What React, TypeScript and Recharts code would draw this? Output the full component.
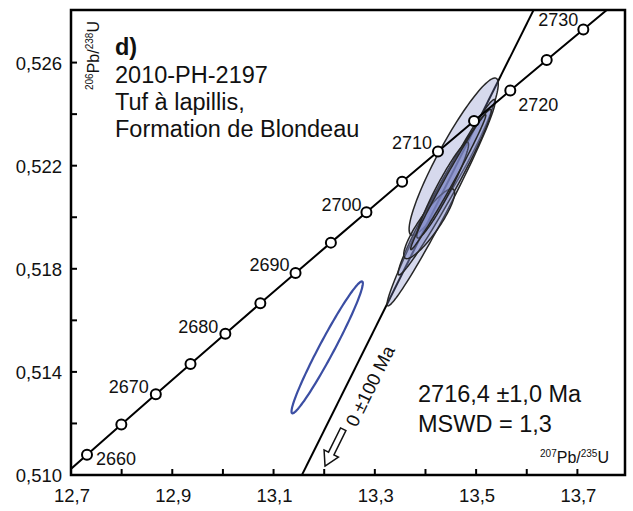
import React from 'react';
import { ScatterChart, Scatter, XAxis, YAxis, ReferenceArea, ReferenceDot } from 'recharts';

// ---------- data ----------
// Concordia reference curve (ages in Ma, with 207Pb/235U and 206Pb/238U ratios)
const concordiaAges = [2655, 2660, 2665, 2670, 2675, 2680, 2685, 2690, 2695, 2700, 2705, 2710, 2715, 2720, 2725, 2730, 2735];
const concordiaPb207U235 = [12.6642, 12.7316, 12.7994, 12.8675, 12.936, 13.0048, 13.0739, 13.1434, 13.2132, 13.2834, 13.3539, 13.4247, 13.4959, 13.5675, 13.6394, 13.7117, 13.7843];
const concordiaPb206U238 = [0.509618, 0.51079, 0.511962, 0.513135, 0.514309, 0.515484, 0.51666, 0.517837, 0.519015, 0.520194, 0.521373, 0.522554, 0.523735, 0.524917, 0.5261, 0.527284, 0.528469];
const markedAges = [2660, 2665, 2670, 2675, 2680, 2685, 2690, 2695, 2700, 2705, 2710, 2715, 2720, 2725, 2730];
const labeledAges = [2660, 2670, 2680, 2690, 2700, 2710, 2720, 2730];

// Discordia (regression line, lower intercept 0 Ma)
const discordiaX = [13.13, 13.64];
const discordiaY = [0.508975, 0.529085];

// Error ellipses: centre, end of major semi-axis, end of minor semi-axis
const ellipseCenterX = [13.4557, 13.431, 13.4379, 13.4073, 13.434, 13.4449];
const ellipseCenterY = [0.522351, 0.520564, 0.520972, 0.519748, 0.52105, 0.52136];
const ellipseMajorX = [13.5398, 13.5366, 13.5289, 13.4549, 13.4836, 13.5187];
const ellipseMajorY = [0.525388, 0.524564, 0.524179, 0.521085, 0.522906, 0.523976];
const ellipseMinorX = [13.4818, 13.4468, 13.4518, 13.4235, 13.4462, 13.4527];
const ellipseMinorY = [0.522073, 0.520403, 0.520821, 0.519526, 0.520923, 0.521276];

// Excluded analysis (open blue ellipse)
const excludedCenter = [13.2059, 0.514952];
const excludedMajor = [13.2751, 0.517507];
const excludedMinor = [13.219, 0.514815];

// Axes
const xTicks = [12.7, 12.8, 12.9, 13.0, 13.1, 13.2, 13.3, 13.4, 13.5, 13.6, 13.7];
const xMajorTicks = [12.7, 12.9, 13.1, 13.3, 13.5, 13.7];
const yTicks = [0.51, 0.512, 0.514, 0.516, 0.518, 0.52, 0.522, 0.524, 0.526];
const yMajorTicks = [0.51, 0.514, 0.518, 0.522, 0.526];
const xDomain = [12.7, 13.794];
const yDomain = [0.51, 0.52804];

// Annotations
const interceptLabel = '0 ±100 Ma';
const interceptLabelAt = [13.2905, 0.513452];
const arrowTipAt = [13.2016, 0.510349];
const titleLines = ['2010-PH-2197', 'Tuf à lapillis,', 'Formation de Blondeau'];
const panelLetter = 'd)';
const resultLines = ['2716,4 ±1,0 Ma', 'MSWD = 1,3'];

// ---------- derived tables ----------
const concordiaLineData = concordiaAges.map((age, i) => ({ age, x: concordiaPb207U235[i], y: concordiaPb206U238[i] }));
const concordiaMarkData = concordiaLineData.filter((d) => markedAges.includes(d.age));
const discordiaData = discordiaX.map((x, i) => ({ x, y: discordiaY[i] }));
const ellipseData = ellipseCenterX.map((cx, i) => [
  { x: cx, y: ellipseCenterY[i] },
  { x: ellipseMajorX[i], y: ellipseMajorY[i] },
  { x: ellipseMinorX[i], y: ellipseMinorY[i] },
]);
const excludedData = [
  { x: excludedCenter[0], y: excludedCenter[1] },
  { x: excludedMajor[0], y: excludedMajor[1] },
  { x: excludedMinor[0], y: excludedMinor[1] },
];

const FONT = '"Liberation Sans", Arial, Helvetica, sans-serif';

const labelPlacement: Record<number, { dx: number; dy: number; anchor: string }> = {
  2660: { dx: 9, dy: 10, anchor: 'start' },
  2670: { dx: -7, dy: -1, anchor: 'end' },
  2680: { dx: -7, dy: -1, anchor: 'end' },
  2690: { dx: -6, dy: -2, anchor: 'end' },
  2700: { dx: -5, dy: -1, anchor: 'end' },
  2710: { dx: -6, dy: -2, anchor: 'end' },
  2720: { dx: 8, dy: 21, anchor: 'start' },
  2730: { dx: -5, dy: -3, anchor: 'end' },
};

// ---------- render helpers ----------
function EllipseOutline(props: any) {
  const { points, fillColor, fillAlpha, strokeColor, strokeW } = props;
  if (!points || points.length < 3) return null;
  const [c, p1, p2] = points;
  const ux = p1.x - c.x;
  const uy = p1.y - c.y;
  const vx = p2.x - c.x;
  const vy = p2.y - c.y;
  const n = 120;
  let d = '';
  for (let i = 0; i <= n; i++) {
    const t = (i / n) * Math.PI * 2;
    const px = c.x + ux * Math.cos(t) + vx * Math.sin(t);
    const py = c.y + uy * Math.cos(t) + vy * Math.sin(t);
    d += (i === 0 ? 'M' : 'L') + px.toFixed(2) + ',' + py.toFixed(2);
  }
  d += 'Z';
  return <path d={d} fill={fillColor} fillOpacity={fillAlpha} stroke={strokeColor} strokeWidth={strokeW} strokeLinejoin="round" />;
}

const NoShape = () => <g />;

const ConcordiaMark = (props: any) => {
  const { cx, cy, payload } = props;
  const place = labelPlacement[payload.age];
  const showLabel = labeledAges.includes(payload.age) && place;
  return (
    <g>
      <circle cx={cx} cy={cy} r={5} fill="#fff" stroke="#000" strokeWidth={2} />
      {showLabel && (
        <text x={cx + place.dx} y={cy + place.dy} textAnchor={place.anchor as any} fontSize={18} fontFamily={FONT} fill="#111">
          {payload.age}
        </text>
      )}
    </g>
  );
};

const near = (a: number, b: number) => Math.abs(a - b) < 1e-6;

const XTick = (props: any) => {
  const { x, y, payload } = props;
  const v = payload.value;
  const major = xMajorTicks.some((t) => near(t, v));
  return (
    <g>
      <line x1={x} y1={y} x2={x} y2={y - 6} stroke="#000" strokeWidth={2} />
      {major && (
        <text x={x + 1} y={y + 27} textAnchor="middle" fontSize={18.5} fontFamily={FONT} fill="#111">
          {v.toFixed(1).replace('.', ',')}
        </text>
      )}
    </g>
  );
};

const YTick = (props: any) => {
  const { x, y, payload } = props;
  const v = payload.value;
  const major = yMajorTicks.some((t) => near(t, v));
  return (
    <g>
      <line x1={x} y1={y} x2={x + 6} y2={y} stroke="#000" strokeWidth={2} />
      {major && (
        <text x={x - 9} y={y + 7} textAnchor="end" fontSize={18.5} fontFamily={FONT} fill="#111">
          {v.toFixed(3).replace('.', ',')}
        </text>
      )}
    </g>
  );
};

const ArrowShape = (props: any) => {
  const { cx, cy } = props;
  // hollow arrow pointing down-left along the discordia
  const pts = '0,0 -14,-8 -14,-3 -41,-3 -41,3 -14,3 -14,8';
  return (
    <polygon
      points={pts}
      transform={`translate(${cx},${cy}) rotate(116.4)`}
      fill="#fff"
      stroke="#111"
      strokeWidth={1.5}
      strokeLinejoin="miter"
    />
  );
};

const InterceptText = (props: any) => {
  const { cx, cy } = props;
  return (
    <text
      x={0}
      y={0}
      transform={`translate(${cx},${cy}) rotate(-63.6)`}
      textAnchor="middle"
      dominantBaseline="central"
      fontSize={18.5}
      fontFamily={FONT}
      fill="#111"
    >
      {interceptLabel}
    </text>
  );
};

export default function App() {
  return (
    <div style={{ position: 'absolute', left: 0, top: 0, width: 633, height: 511, background: '#fff' }}>
      <ScatterChart width={633} height={511} margin={{ top: 10, right: 8, bottom: 0, left: 0 }}>
        <XAxis
          type="number"
          dataKey="x"
          domain={xDomain}
          allowDataOverflow
          ticks={xTicks}
          interval={0}
          tick={<XTick />}
          tickLine={false}
          axisLine={false}
          tickSize={0}
          tickMargin={0}
          height={36}
        />
        <YAxis
          type="number"
          dataKey="y"
          domain={yDomain}
          allowDataOverflow
          ticks={yTicks}
          interval={0}
          tick={<YTick />}
          tickLine={false}
          axisLine={false}
          tickSize={0}
          tickMargin={0}
          width={71}
        />
        <Scatter
          data={discordiaData}
          line={{ stroke: '#000', strokeWidth: 2 }}
          lineType="joint"
          shape={NoShape}
          isAnimationActive={false}
        />
        {ellipseData.map((d, i) => (
          <Scatter
            key={'e' + i}
            data={d}
            line={<EllipseOutline fillColor="#8088c6" fillAlpha={0.32} strokeColor="#262626" strokeW={1.5} />}
            lineType="joint"
            shape={NoShape}
            isAnimationActive={false}
          />
        ))}
        <Scatter
          data={excludedData}
          line={<EllipseOutline fillColor="none" fillAlpha={0} strokeColor="#3b4ea3" strokeW={2.2} />}
          lineType="joint"
          shape={NoShape}
          isAnimationActive={false}
        />
        <Scatter
          data={concordiaLineData}
          line={{ stroke: '#000', strokeWidth: 2 }}
          lineType="joint"
          shape={NoShape}
          isAnimationActive={false}
        />
        <Scatter data={concordiaMarkData} shape={ConcordiaMark} isAnimationActive={false} />
        <ReferenceDot x={arrowTipAt[0]} y={arrowTipAt[1]} shape={ArrowShape} ifOverflow="visible" />
        <ReferenceDot x={interceptLabelAt[0]} y={interceptLabelAt[1]} shape={InterceptText} ifOverflow="visible" />
        <ReferenceArea
          x1={xDomain[0]}
          x2={xDomain[1]}
          y1={yDomain[0]}
          y2={yDomain[1]}
          fill="none"
          fillOpacity={0}
          stroke="#000"
          strokeWidth={2.5}
          ifOverflow="visible"
        />
      </ScatterChart>
      <svg width={633} height={511} style={{ position: 'absolute', left: 0, top: 0, pointerEvents: 'none' }}>
        <g fontFamily={FONT} fill="#111">
          <text x={115} y={55} fontSize={23.5} fontWeight="bold">{panelLetter}</text>
          {titleLines.map((t, i) => (
            <text key={t} x={115} y={83 + i * 27} fontSize={23.5}>{t}</text>
          ))}
          {resultLines.map((t, i) => (
            <text key={t} x={418} y={402 + i * 29.5} fontSize={23.5}>{t}</text>
          ))}
          <text x={609} y={463} textAnchor="end" fontSize={16}>
            <tspan fontSize={10} dy={-6}>207</tspan>
            <tspan dy={6}>Pb/</tspan>
            <tspan fontSize={10} dy={-6}>235</tspan>
            <tspan dy={6}>U</tspan>
          </text>
          <text transform="translate(99,90) rotate(-90)" x={0} y={0} textAnchor="start" fontSize={16}>
            <tspan fontSize={10} dy={-6}>206</tspan>
            <tspan dy={6}>Pb/</tspan>
            <tspan fontSize={10} dy={-6}>238</tspan>
            <tspan dy={6}>U</tspan>
          </text>
        </g>
      </svg>
    </div>
  );
}
